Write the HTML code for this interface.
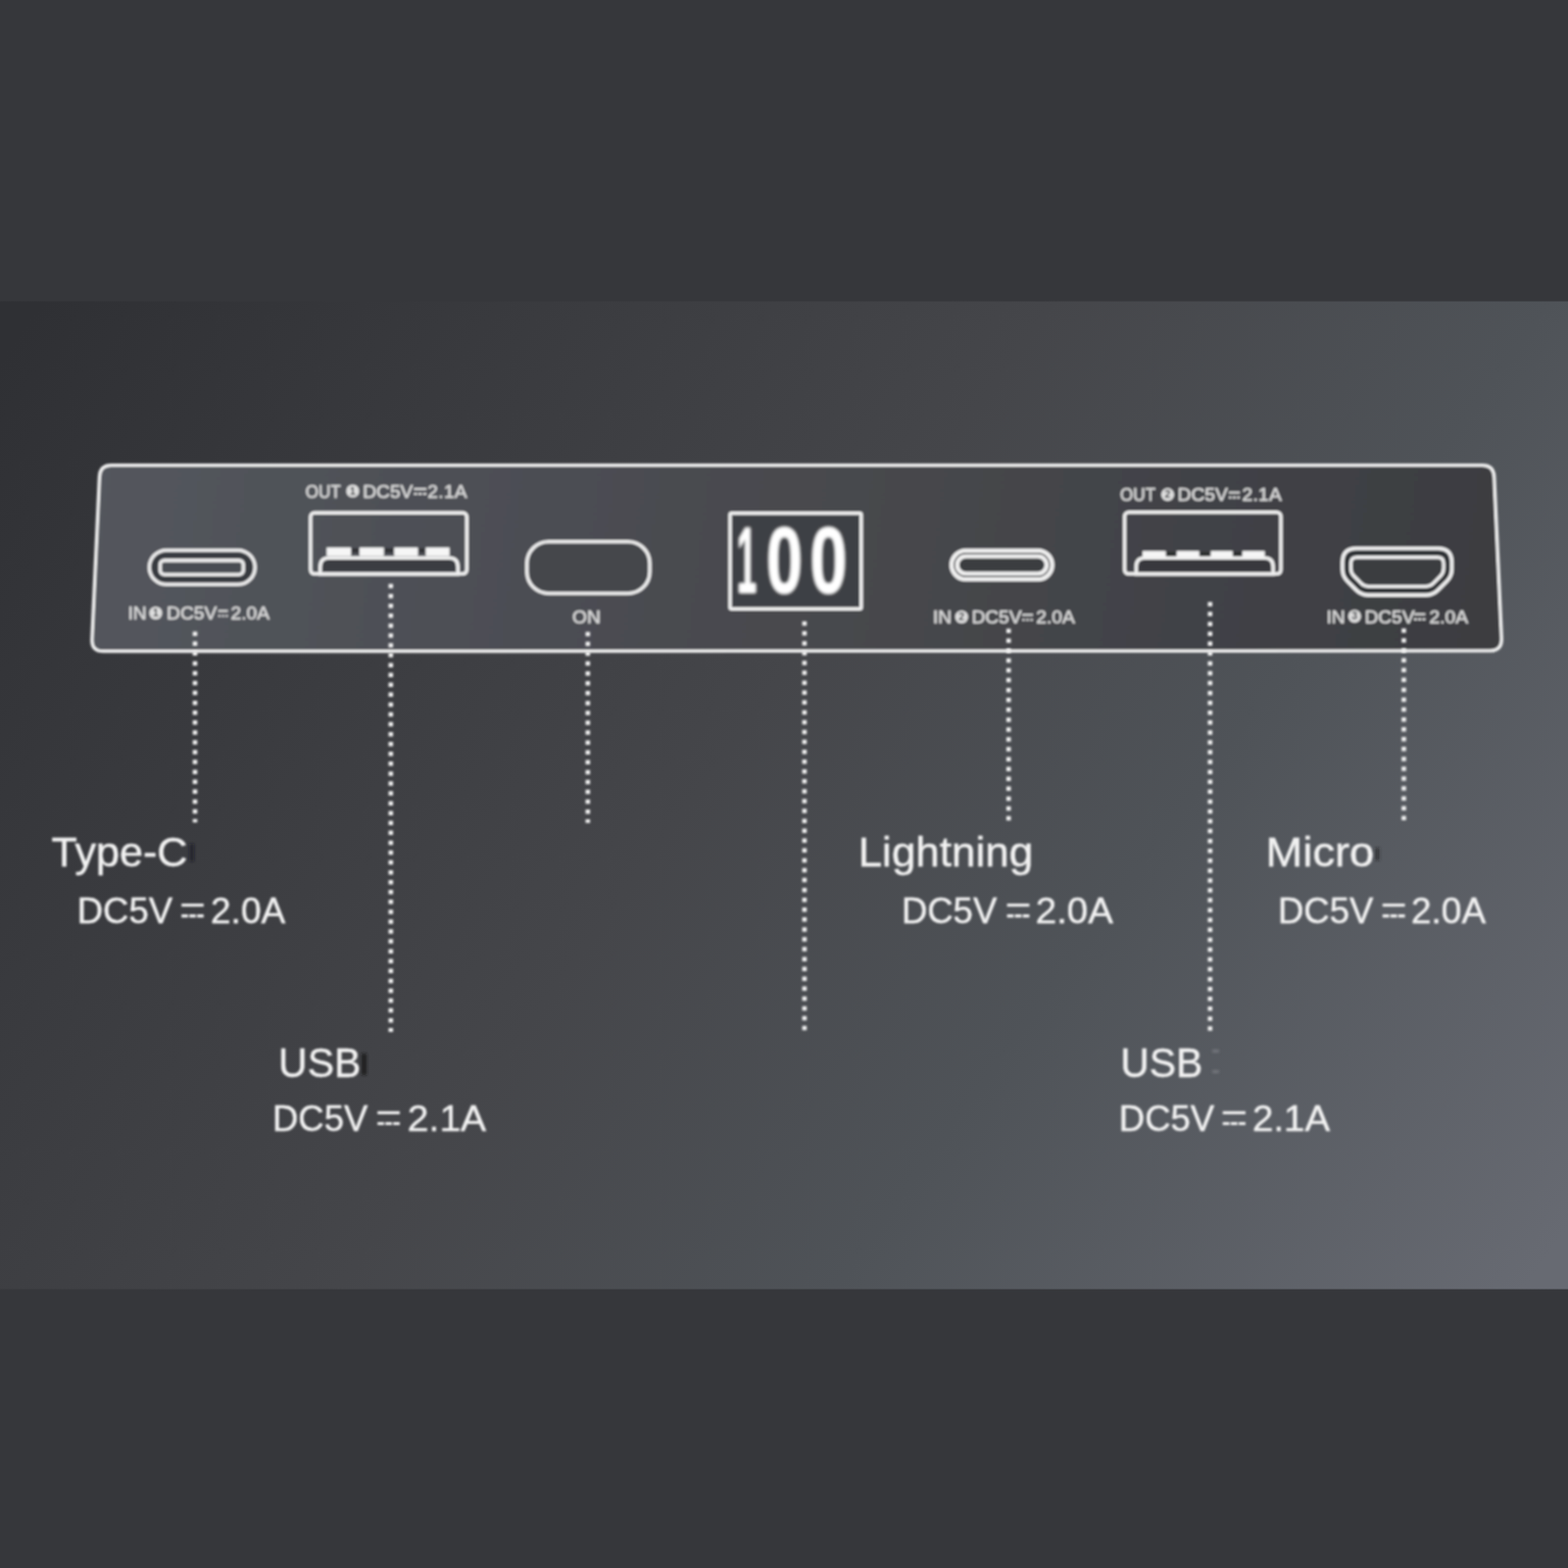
<!DOCTYPE html>
<html lang="en">
<head>
<meta charset="utf-8">
<title>Power bank port panel</title>
<style>
html,body{margin:0;padding:0;background:#36373b;}
body{width:1600px;height:1600px;overflow:hidden;font-family:"Liberation Sans", sans-serif;}
svg{display:block;}
svg text{font-family:"Liberation Sans", sans-serif;}
.sm{font-size:19.2px;fill:#dadada;stroke:#dadada;stroke-width:0.5px;}
.num{font-size:10.5px;font-weight:bold;fill:#3a3c40;}
.big{font-size:42.5px;fill:#f2f2f2;stroke:#f2f2f2;stroke-width:0.45px;}
.mid{font-size:36.5px;fill:#f2f2f2;stroke:#f2f2f2;stroke-width:0.4px;}
.seg{font-size:97px;font-weight:bold;fill:#ffffff;}
.ic3{stroke:#ededed;stroke-width:3;}
.ic4{stroke:#f0f0f0;stroke-width:3.5;}
.ic36{stroke:#f0f0f0;stroke-width:3.6;}
.ic42{stroke:#ebebeb;stroke-width:3.6;}
.ic44{stroke:#efefef;stroke-width:4.4;}
.ic40{stroke:#efefef;stroke-width:3.7;stroke-linejoin:round;}
.ic38{stroke:#efefef;stroke-width:3.4;stroke-linejoin:round;}
.dot{stroke:#f0f0f0;stroke-width:4.6;stroke-linecap:butt;stroke-dasharray:4.5 5.57;fill:none;}
.symt{stroke:#d8d8d8;stroke-width:2.2;fill:none;}
.symb{stroke:#d8d8d8;stroke-width:2.2;fill:none;}
.bsymt{stroke:#f2f2f2;stroke-width:3.1;fill:none;}
.bsymb{stroke:#f2f2f2;stroke-width:3.1;fill:none;}
</style>
</head>
<body>
<svg width="1600" height="1600" viewBox="0 0 1600 1600">
<defs>
<linearGradient id="bg" gradientUnits="userSpaceOnUse" x1="30" y1="327" x2="1498" y2="1394">
<stop offset="0" stop-color="#2f3034"/>
<stop offset="0.313" stop-color="#3e3f43"/>
<stop offset="0.46" stop-color="#45464a"/>
<stop offset="0.686" stop-color="#4f5358"/>
<stop offset="1" stop-color="#676a72"/>
</linearGradient>
<linearGradient id="pn" gradientUnits="userSpaceOnUse" x1="100" y1="480" x2="1530" y2="660">
<stop offset="0" stop-color="#53565d"/>
<stop offset="0.42" stop-color="#4a4b50"/>
<stop offset="1" stop-color="#3c3d41"/>
</linearGradient>
<filter id="soft" x="-5%" y="-5%" width="110%" height="110%"><feGaussianBlur stdDeviation="0.95"/></filter>
<filter id="soft2" x="-5%" y="-5%" width="110%" height="110%"><feGaussianBlur stdDeviation="0.8"/></filter>
<filter id="dsoft" x="-10%" y="-10%" width="120%" height="120%"><feGaussianBlur stdDeviation="1.05"/></filter>
<filter id="dotblur" filterUnits="userSpaceOnUse" x="150" y="580" width="1320" height="500"><feGaussianBlur stdDeviation="0.8"/></filter>
<filter id="tblur" x="-5%" y="-30%" width="110%" height="160%"><feGaussianBlur stdDeviation="0.4"/></filter>
<filter id="glow" x="-30%" y="-30%" width="160%" height="160%"><feGaussianBlur stdDeviation="1.8"/></filter>
<filter id="smudge" x="-100%" y="-100%" width="300%" height="300%"><feGaussianBlur stdDeviation="1.6"/></filter>
</defs>
<rect x="0" y="0" width="1600" height="1600" fill="#36373b"/>
<rect x="0" y="307.5" width="1600" height="1008" fill="url(#bg)"/>

<g filter="url(#soft)">
<path d="M113.5 474.6 H1512.5 Q1524.2 474.6 1524.8 486.5 L1532.3 651.5 Q1532.8 664.1 1520.5 664.2 L105.5 664.7 Q93.2 664.7 93.8 652.4 L101.4 486.5 Q102 474.6 113.5 474.6 Z" fill="url(#pn)" stroke="#f0f0f0" stroke-width="3.3" stroke-linejoin="round"/>
<rect x="152.4" y="561.5" width="107.8" height="34.8" rx="17.4" fill="#393b40" class="ic42"/>
<rect x="163.4" y="571.9" width="84.9" height="14.4" rx="4.2" fill="#4a4d52" class="ic42"/>
<g filter="url(#tblur)"><text x="130.40" y="632.2" class="sm">IN</text>
<circle cx="158.9" cy="625.5" r="6.6" fill="#dedede"/>
<text x="158.9" y="629.0" text-anchor="middle" class="num">1</text>
<text x="170.10" y="632.2" class="sm">DC5V</text>
<path d="M222.6 623.4000000000001H232.6" class="symt"/>
<path d="M222.6 628.5H232.6" class="symb" stroke-dasharray="2.53 1.2"/>
<text x="235.50" y="632.2" class="sm" style="letter-spacing:0px">2.0A</text></g>
<rect x="316.9" y="523.3" width="159.40000000000003" height="62.30000000000007" rx="4" fill="none" class="ic4"/>
<path d="M326.8 585.6 V578.3 Q326.8 569.3 335.8 569.3 H458.2 Q467.2 569.3 467.2 578.3 V585.6 Z" class="ic36" fill="#3b3d42"/>
<rect x="333.3" y="558.6" width="24.899999999999977" height="8.799999999999955" fill="#f6f6f6"/>
<rect x="366.8" y="558.6" width="24.899999999999977" height="8.799999999999955" fill="#f6f6f6"/>
<rect x="402.2" y="558.6" width="24.30000000000001" height="8.799999999999955" fill="#f6f6f6"/>
<rect x="434.4" y="558.6" width="24.30000000000001" height="8.799999999999955" fill="#f6f6f6"/>
<rect x="359.4" y="559.6" width="6.200000000000022" height="4.2" fill="#28292c" opacity="0.85"/>
<rect x="392.9" y="559.6" width="8.1" height="4.2" fill="#28292c" opacity="0.85"/>
<rect x="427.7" y="559.6" width="5.499999999999977" height="4.2" fill="#28292c" opacity="0.85"/>
<g filter="url(#tblur)"><text x="311.80" y="507.7" class="sm" textLength="36.0" lengthAdjust="spacingAndGlyphs">OUT</text>
<circle cx="359.9" cy="501.0" r="6.6" fill="#dedede"/>
<text x="359.9" y="504.5" text-anchor="middle" class="num">1</text>
<text x="370.20" y="507.7" class="sm">DC5V</text>
<path d="M422.3 498.9H435.2" class="symt"/>
<path d="M422.3 504.0H435.2" class="symb" stroke-dasharray="3.50 1.2"/>
<text x="436.30" y="507.7" class="sm" style="letter-spacing:0.3px">2.1A</text></g>
<rect x="537.7" y="552.7" width="125.3" height="52.8" rx="22" class="ic42" fill="#45474c"/>
<text x="598.4" y="636.3" text-anchor="middle" class="sm" filter="url(#tblur)">ON</text>
<rect x="745" y="523.8" width="133.8" height="97.4" rx="1.5" class="ic4" fill="#3e4044"/>
<g filter="url(#glow)" opacity="0.55">
<text x="752" y="604.8" class="seg" textLength="20" lengthAdjust="spacingAndGlyphs">1</text>
<text x="782" y="604.8" class="seg" textLength="37" lengthAdjust="spacingAndGlyphs">0</text>
<text x="826.5" y="604.8" class="seg" textLength="38" lengthAdjust="spacingAndGlyphs">0</text>
</g>
<g filter="url(#dsoft)">
<text x="752" y="604.8" class="seg" textLength="20" lengthAdjust="spacingAndGlyphs">1</text>
<text x="782" y="604.8" class="seg" textLength="37" lengthAdjust="spacingAndGlyphs">0</text>
<text x="826.5" y="604.8" class="seg" textLength="38" lengthAdjust="spacingAndGlyphs">0</text>
</g>
<rect x="971.0" y="561.9" width="102.7" height="29.2" rx="14.6" fill="#35363a" class="ic44"/>
<rect x="976.7" y="567.6" width="91.3" height="17.8" rx="8.9" fill="#3a3c40" class="ic44"/>
<g filter="url(#tblur)"><text x="952.00" y="636.2" class="sm">IN</text>
<circle cx="981.25" cy="629.5" r="6.6" fill="#dedede"/>
<text x="981.25" y="633.0" text-anchor="middle" class="num">2</text>
<text x="991.40" y="636.2" class="sm">DC5V</text>
<path d="M1043.0 627.4000000000001H1054.0" class="symt"/>
<path d="M1043.0 632.5H1054.0" class="symb" stroke-dasharray="2.87 1.2"/>
<text x="1057.30" y="636.2" class="sm" style="letter-spacing:0px">2.0A</text></g>
<rect x="1147.6" y="522.7" width="159.4000000000001" height="62.89999999999998" rx="4" fill="none" class="ic4"/>
<path d="M1159.4 585.6 V578.2 Q1159.4 569.2 1168.4 569.2 H1290.1 Q1299.1 569.2 1299.1 578.2 V585.6 Z" class="ic36" fill="#37383c"/>
<rect x="1165.9" y="562.2" width="23.699999999999818" height="6.099999999999909" fill="#f6f6f6"/>
<rect x="1200.7" y="562.2" width="23.0" height="6.099999999999909" fill="#f6f6f6"/>
<rect x="1235.5" y="562.2" width="22.299999999999955" height="6.099999999999909" fill="#f6f6f6"/>
<rect x="1267.7" y="562.2" width="22.899999999999864" height="6.099999999999909" fill="#f6f6f6"/>
<rect x="1190.8" y="563.2" width="8.700000000000136" height="4.2" fill="#28292c" opacity="0.85"/>
<rect x="1224.9" y="563.2" width="9.399999999999954" height="4.2" fill="#28292c" opacity="0.85"/>
<rect x="1259.0" y="563.2" width="7.500000000000091" height="4.2" fill="#28292c" opacity="0.85"/>
<g filter="url(#tblur)"><text x="1143.10" y="511.4" class="sm" textLength="36.0" lengthAdjust="spacingAndGlyphs">OUT</text>
<circle cx="1191.5" cy="504.7" r="6.6" fill="#dedede"/>
<text x="1191.5" y="508.2" text-anchor="middle" class="num">2</text>
<text x="1201.60" y="511.4" class="sm">DC5V</text>
<path d="M1253.8 502.59999999999997H1265.2" class="symt"/>
<path d="M1253.8 507.7H1265.2" class="symb" stroke-dasharray="3.00 1.2"/>
<text x="1267.50" y="511.4" class="sm" style="letter-spacing:0.3px">2.1A</text></g>
<path d="M1369.90 573.60 Q1369.90 559.60 1383.90 559.60 L1467.40 559.60 Q1481.40 559.60 1481.40 573.60 L1481.40 581.00 Q1481.40 588.00 1476.45 592.95 L1467.25 602.15 Q1462.30 607.10 1455.30 607.10 L1396.00 607.10 Q1389.00 607.10 1384.05 602.15 L1374.85 592.95 Q1369.90 588.00 1369.90 581.00 Z" fill="#2f3034" class="ic40"/>
<path d="M1378.40 574.80 Q1378.40 568.80 1384.40 568.80 L1467.10 568.80 Q1473.10 568.80 1473.10 574.80 L1473.10 580.00 Q1473.10 584.50 1469.95 587.72 L1462.65 595.18 Q1459.50 598.40 1455.00 598.40 L1396.50 598.40 Q1392.00 598.40 1388.85 595.18 L1381.55 587.72 Q1378.40 584.50 1378.40 580.00 Z" fill="#3b3c40" class="ic38"/>
<g filter="url(#tblur)"><text x="1353.40" y="635.5" class="sm">IN</text>
<circle cx="1382.25" cy="628.8" r="6.6" fill="#dedede"/>
<text x="1382.25" y="632.3" text-anchor="middle" class="num">3</text>
<text x="1392.40" y="635.5" class="sm">DC5V</text>
<path d="M1442.8 626.7H1454.5" class="symt"/>
<path d="M1442.8 631.8H1454.5" class="symb" stroke-dasharray="3.10 1.2"/>
<text x="1458.50" y="635.5" class="sm" style="letter-spacing:0px">2.0A</text></g>
</g>
<g filter="url(#dotblur)">
<line x1="199.0" y1="644.45" x2="199.0" y2="839.2" class="dot"/>
<line x1="398.8" y1="595.85" x2="398.8" y2="1053.0" class="dot"/>
<line x1="599.8" y1="644.65" x2="599.8" y2="839.8" class="dot"/>
<line x1="820.9" y1="634.00" x2="820.9" y2="1052.0" class="dot"/>
<line x1="1029.2" y1="641.50" x2="1029.2" y2="838.6" class="dot"/>
<line x1="1234.8" y1="614.25" x2="1234.8" y2="1052.5" class="dot"/>
<line x1="1432.5" y1="641.25" x2="1432.5" y2="838.6" class="dot"/>
</g>
<g filter="url(#soft2)">
<text x="52.50" y="883.8" class="big" textLength="138.90" lengthAdjust="spacingAndGlyphs">Type-C</text>
<text x="78.70" y="941.9" class="mid">DC5V</text>
<path d="M185.2 923.6H207.8" class="bsymt"/>
<path d="M185.2 934.6H207.8" class="bsymb" stroke-dasharray="6.67 1.3"/>
<text x="215.00" y="941.9" class="mid" textLength="76.20" lengthAdjust="spacingAndGlyphs">2.0A</text>
<text x="875.65" y="883.8" class="big" textLength="178.60" lengthAdjust="spacingAndGlyphs">Lightning</text>
<text x="919.90" y="941.9" class="mid">DC5V</text>
<path d="M1027.6 923.6H1050.4" class="bsymt"/>
<path d="M1027.6 934.6H1050.4" class="bsymb" stroke-dasharray="6.73 1.3"/>
<text x="1056.80" y="941.9" class="mid" textLength="79.00" lengthAdjust="spacingAndGlyphs">2.0A</text>
<text x="1291.60" y="883.8" class="big" textLength="110.70" lengthAdjust="spacingAndGlyphs">Micro</text>
<text x="1304.00" y="941.9" class="mid">DC5V</text>
<path d="M1410.8 923.6H1433.6" class="bsymt"/>
<path d="M1410.8 934.6H1433.6" class="bsymb" stroke-dasharray="6.73 1.3"/>
<text x="1439.90" y="941.9" class="mid" textLength="76.20" lengthAdjust="spacingAndGlyphs">2.0A</text>
<text x="284.10" y="1099.4" class="big" textLength="84.15" lengthAdjust="spacingAndGlyphs">USB</text>
<text x="278.00" y="1153.75" class="mid">DC5V</text>
<path d="M385.2 1135.45H407.9" class="bsymt"/>
<path d="M385.2 1146.45H407.9" class="bsymb" stroke-dasharray="6.70 1.3"/>
<text x="415.80" y="1153.75" class="mid" textLength="80.40" lengthAdjust="spacingAndGlyphs">2.1A</text>
<text x="1143.20" y="1099.4" class="big" textLength="84.10" lengthAdjust="spacingAndGlyphs">USB</text>
<text x="1141.80" y="1153.75" class="mid">DC5V</text>
<path d="M1247.7 1135.45H1270.9" class="bsymt"/>
<path d="M1247.7 1146.45H1270.9" class="bsymb" stroke-dasharray="6.87 1.3"/>
<text x="1278.00" y="1153.75" class="mid" textLength="79.10" lengthAdjust="spacingAndGlyphs">2.1A</text>
</g>
<g filter="url(#smudge)">
<rect x="369" y="1075" width="5" height="22" fill="#141416" opacity="0.85"/>
<rect x="193.5" y="861" width="4.5" height="18" fill="#17181a" opacity="0.6"/>
<rect x="1403.5" y="865" width="4" height="13" fill="#1c1d20" opacity="0.6"/>
<rect x="1237" y="1071" width="7" height="3" fill="#9a9ca2" opacity="0.45"/>
<rect x="1237" y="1092" width="7" height="3" fill="#9a9ca2" opacity="0.45"/>
</g>
</svg>
</body>
</html>
